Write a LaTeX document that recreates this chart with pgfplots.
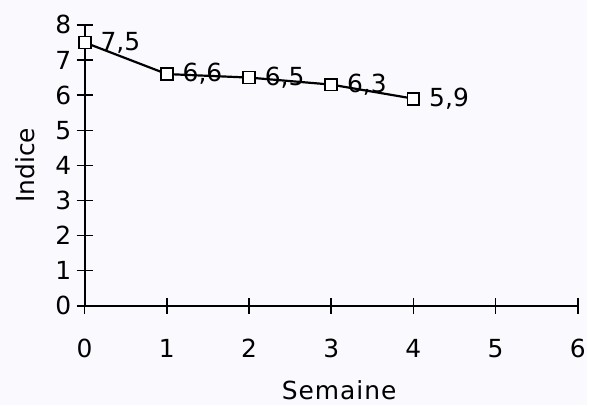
\documentclass[border=0pt]{standalone}
\usepackage{pgfplots}
\pgfplotsset{compat=1.18}
\usepackage{fontspec}
\setmainfont{DejaVu Sans}
\definecolor{paper}{RGB}{250,250,254}

\begin{document}
\begin{tikzpicture}
\fill[paper] (0,0) rectangle (589pt,407pt);
\begin{axis}[
    at={(85pt,100pt)}, anchor=south west,
    scale only axis,
    width=495pt, height=282pt,
    xmin=0, xmax=6, ymin=0, ymax=8,
    xtick={0,...,6}, ytick={0,...,8},
    axis lines=left,
    axis line style={-, line width=1.8pt},
    tick style={line width=1.5pt, black},
    major tick length=16pt,
    tick align=center,
    /pgf/number format/assume math mode=true,
    ticklabel style={font=\fontsize{25}{28}\selectfont},
    xticklabel style={yshift=-22pt},
    yticklabel style={xshift=-2pt},
    xlabel={\addfontfeature{LetterSpace=4}Semaine},
    ylabel={Indice},
    label style={font=\fontsize{25}{28}\selectfont},
    xlabel style={yshift=-16pt, xshift=8pt},
    ylabel style={yshift=14pt},
    clip=false,
]
\addplot[
    black, line width=2.2pt,
    mark=square*, mark size=6pt,
    mark options={fill=white, line width=1.8pt},
    nodes near coords, point meta=explicit symbolic,
    every node near coord/.append style={anchor=west, font=\fontsize{25}{28}\selectfont, inner sep=0pt, xshift=15pt},
] coordinates {
    (0,7.5) [7,5]
    (1,6.6) [6,6]
    (2,6.5) [6,5]
    (3,6.3) [6,3]
    (4,5.9) [5,9]
};
\end{axis}
\end{tikzpicture}
\end{document}
